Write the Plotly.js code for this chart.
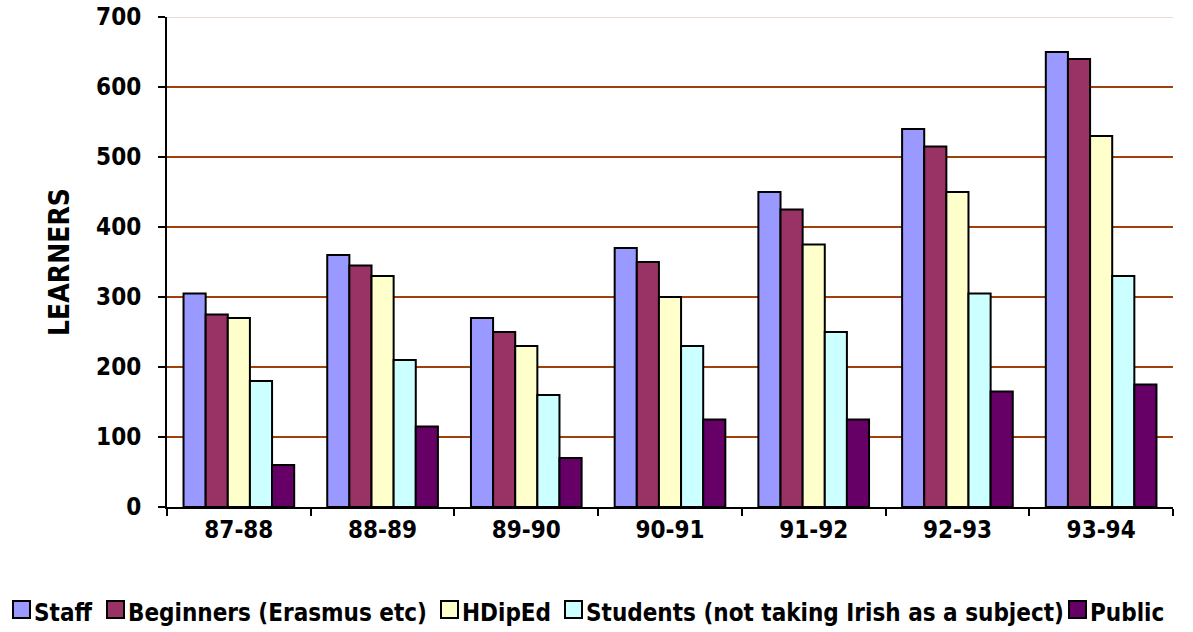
<!DOCTYPE html>
<html>
<head>
<meta charset="utf-8">
<script src="https://cdn.plot.ly/plotly-3.0.1.min.js"></script>
<style>html,body{margin:0;padding:0;background:#fff;}#chart{width:1193px;height:632px;}</style>
</head>
<body>
<div id="chart"></div>
<script>
const categories = ["87-88","88-89","89-90","90-91","91-92","92-93","93-94"];
const seriesNames = ["Staff","Beginners (Erasmus etc)","HDipEd","Students (not taking Irish as a subject)","Public"];
const staff     = [305, 360, 270, 370, 450, 540, 650];
const beginners = [275, 345, 250, 350, 425, 515, 640];
const hdiped    = [270, 330, 230, 300, 375, 450, 530];
const students  = [180, 210, 160, 230, 250, 305, 330];
const publicL   = [60, 115, 70, 125, 125, 165, 175];
const colors = ["#9999FF","#993366","#FFFFCC","#CCFFFF","#660066"];
const yTicks = [0,100,200,300,400,500,600,700];

const allSeries = [staff, beginners, hdiped, students, publicL];
const FONT = "DejaVu Sans Condensed, DejaVu Sans, sans-serif";
const traces = allSeries.map((vals, i) => ({
  type: "bar",
  name: seriesNames[i],
  x: categories,
  y: vals,
  marker: {color: colors[i], line: {color: "#000", width: 2}},
  showlegend: false
}));

// plot area in pixels (layout only)
const W = 1193, H = 632, ML = 167, MR = 20, MT = 17, MB = 125;
const PW = W - ML - MR, PH = H - MT - MB;
const px = v => (v - ML) / PW;
const py = v => (H - MB - v) / PH;

// legend drawn as shapes + text (positions are layout)
const legendSquareX = [13, 107, 441, 565, 1069];
const SQ = 17, SQTOP = 601, TEXTY = 613;
const legendShapes = seriesNames.map((n, i) => ({
  type: "rect", xref: "paper", yref: "paper",
  x0: px(legendSquareX[i]), x1: px(legendSquareX[i] + SQ),
  y0: py(SQTOP + SQ), y1: py(SQTOP),
  fillcolor: colors[i], line: {color: "#000", width: 2}
}));
const legendTexts = seriesNames.map((n, i) => ({
  xref: "paper", yref: "paper",
  x: px(legendSquareX[i] + SQ + 2), y: py(TEXTY),
  xanchor: "left", yanchor: "middle",
  text: n, showarrow: false,
  font: {family: FONT, size: 24, weight: "bold", color: "#000"}
}));

const layout = {
  width: W, height: H,
  margin: {l: ML, r: MR, t: MT, b: MB, autoexpand: false},
  paper_bgcolor: "#fff", plot_bgcolor: "#fff",
  barmode: "group", bargap: 0.23, bargroupgap: 0,
  font: {family: FONT, color: "#000"},
  xaxis: {
    type: "category",
    showline: true, linecolor: "#000", linewidth: 2,
    ticks: "outside", tickson: "boundaries", ticklen: 7, tickwidth: 2, tickcolor: "#000",
    tickfont: {family: FONT, size: 24, weight: "bold"},
    showgrid: false, automargin: false
  },
  yaxis: {
    range: [0, 700],
    tickvals: yTicks,
    showline: true, linecolor: "#000", linewidth: 2,
    ticks: "outside", ticklen: 7, tickwidth: 2, tickcolor: "#000",
    ticklabelstandoff: 12,
    tickfont: {family: FONT, size: 24, weight: "bold"},
    showgrid: true, gridcolor: "#A0400A", gridwidth: 2,
    zeroline: false, automargin: false,
    title: {text: "LEARNERS", font: {family: FONT, size: 28, weight: "bold"}, standoff: 18}
  },
  showlegend: false,
  shapes: [{type: "line", xref: "paper", yref: "y", x0: 0, x1: 1, y0: 700, y1: 700, line: {color: "#EBDCD3", width: 2}}].concat(legendShapes),
  annotations: legendTexts
};

Plotly.newPlot("chart", traces, layout, {displayModeBar: false, staticPlot: true});
</script>
</body>
</html>
